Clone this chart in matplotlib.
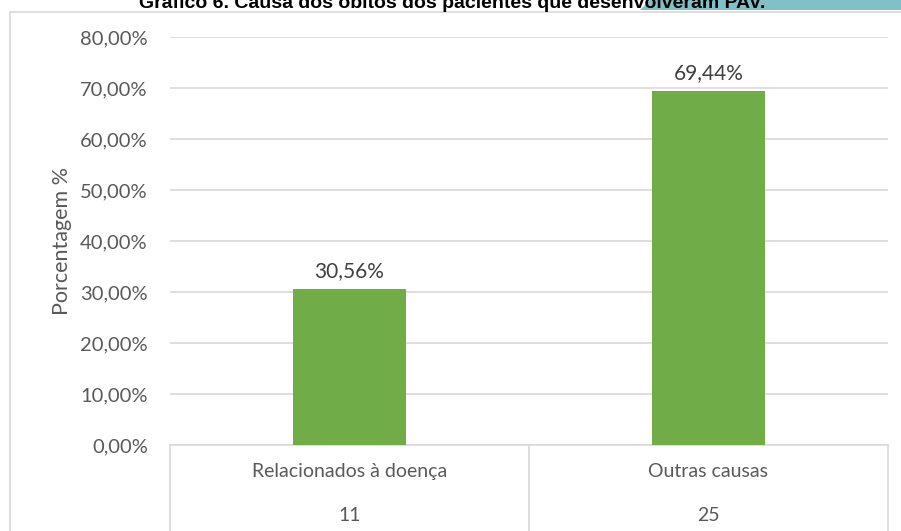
import matplotlib.pyplot as plt
from matplotlib.patches import Polygon, Rectangle
from matplotlib.ticker import FuncFormatter

categorias = ['Relacionados à doença', 'Outras causas']
contagens = [11, 25]
porcentagens = [30.56, 69.44]
yticks = [0, 10, 20, 30, 40, 50, 60, 70, 80]

W, H = 901, 531
fig = plt.figure(figsize=(W / 100, H / 100), dpi=100)
plt.rcParams['font.family'] = ['Lato', 'DejaVu Sans']

# teal banner behind the title, top right
fig.patches.append(Polygon([[650 / W, 1], [901 / W, 1], [901 / W, 1 - 10 / H], [640 / W, 1 - 10 / H]],
                           closed=True, transform=fig.transFigure, facecolor='#80c0c7',
                           edgecolor='none', zorder=0))
# chart frame
fig.patches.append(Rectangle((10 / W, -0.05), 1.2, 1 - 12 / H + 0.05, transform=fig.transFigure,
                             facecolor='white', edgecolor='#d9d9d9', linewidth=1.2, zorder=1))

# title is cropped at the top edge, as in the source image
fig.text(452 / W, 1 - 8 / H, 'Gráfico 6. Causa dos óbitos dos pacientes que desenvolveram PAV.',
         ha='center', va='baseline', fontsize=14, fontweight='bold',
         family='Liberation Sans', color='black', zorder=3)

ax = fig.add_axes([170 / W, 1 - 445 / H, (888 - 170) / W, (445 - 37) / H])
ax.set_zorder(2)
ax.patch.set_alpha(0)
x = range(len(categorias))
vals = [p / 100 for p in porcentagens]
ax.bar(x, vals, width=0.315, color='#70ad47', zorder=3)
for i, v in enumerate(vals):
    ax.text(i, v + 0.015, ('%.2f%%' % porcentagens[i]).replace('.', ','),
            ha='center', va='bottom', fontsize=15, color='#404040')

ax.set_xlim(-0.5, 1.5)
ax.set_ylim(0, 0.8)
ax.set_yticks([t / 100 for t in yticks])
ax.yaxis.set_major_formatter(FuncFormatter(lambda v, p: ('%.2f%%' % (v * 100)).replace('.', ',')))
ax.tick_params(axis='y', length=0, labelsize=14.5, labelcolor='#595959', pad=16)
ax.set_xticks([])
ax.grid(axis='y', color='#d9d9d9', linewidth=1.2, zorder=0)
for s in ['top', 'right', 'left']:
    ax.spines[s].set_visible(False)
ax.spines['bottom'].set_color('#d9d9d9')
ax.spines['bottom'].set_linewidth(1.2)
ax.set_ylabel('Porcentagem %', fontsize=15.5, color='#595959', labelpad=6)

# category table below the axis
tr = ax.get_xaxis_transform()
for xv in [-0.5, 0.5, 1.5]:
    ax.plot([xv, xv], [0, -0.25], transform=tr, color='#d9d9d9', linewidth=1.2, clip_on=False)
for i, c in enumerate(categorias):
    ax.text(i, -0.066, c, transform=tr, ha='center', va='center', fontsize=14, color='#595959')
    ax.text(i, -0.172, str(contagens[i]), transform=tr, ha='center', va='center',
            fontsize=14, color='#595959')

fig.savefig('out.png', dpi=100)
